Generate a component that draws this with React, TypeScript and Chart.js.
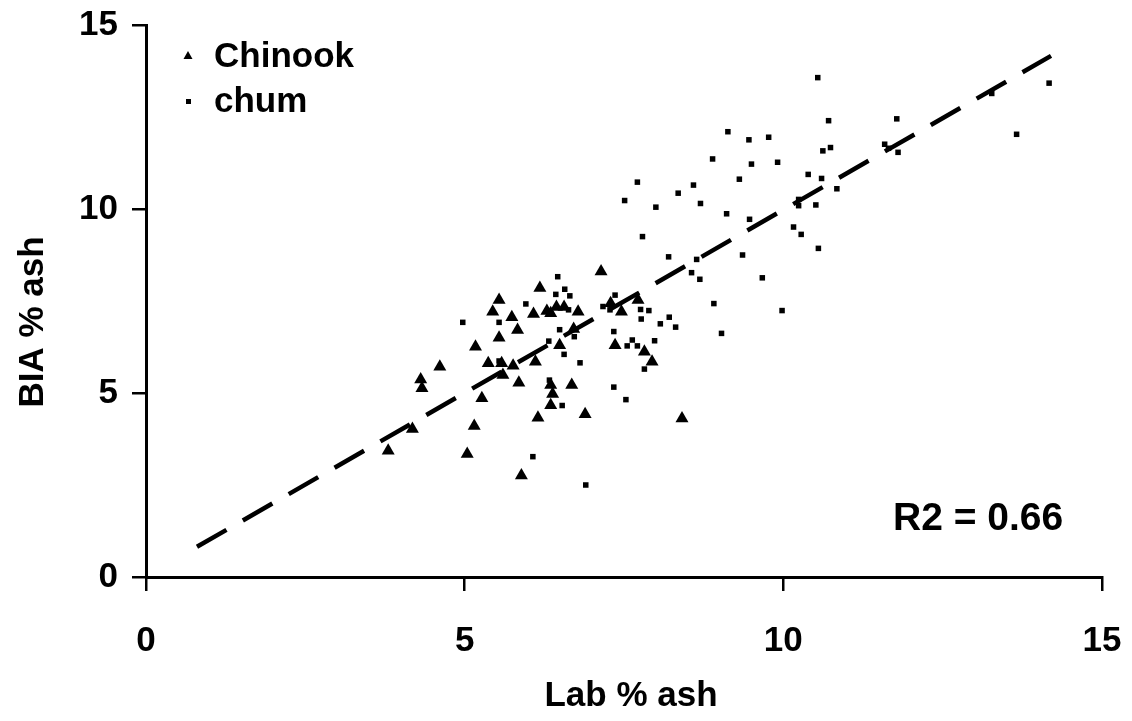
import React, { useEffect, useRef } from "react";
import { Chart, registerables } from "chart.js";

Chart.register(...registerables);

const chinookX = [3.80, 4.18, 4.31, 4.33, 4.61, 5.04, 5.15, 5.17, 5.27, 5.37, 5.44, 5.54, 5.54, 5.58, 5.60, 5.74, 5.76, 5.83, 5.85, 5.89, 6.08, 6.11, 6.15, 6.18, 6.29, 6.35, 6.44, 6.56, 6.78, 6.35, 6.38, 6.35, 6.49, 6.68, 6.71, 6.89, 7.14, 7.29, 7.36, 7.46, 7.72, 7.82, 7.94, 8.41];
const chinookY = [3.43, 4.02, 5.37, 5.13, 5.71, 3.34, 4.10, 6.26, 4.86, 5.81, 7.21, 7.53, 6.50, 5.81, 5.49, 7.06, 5.74, 6.71, 5.28, 2.76, 7.15, 5.85, 4.33, 7.85, 7.23, 7.17, 7.34, 7.34, 7.21, 5.22, 4.97, 4.67, 6.30, 5.22, 6.74, 4.42, 8.30, 7.44, 6.30, 7.21, 7.53, 6.12, 5.85, 4.31];

const chumX = [4.97, 5.54, 5.54, 5.96, 6.07, 6.32, 6.33, 6.43, 6.46, 6.49, 6.53, 6.56, 6.57, 6.65, 6.63, 6.72, 6.81, 6.90, 7.17, 7.28, 7.34, 7.34, 7.36, 7.53, 7.55, 7.63, 7.71, 7.76, 7.77, 7.82, 7.89, 7.98, 8.07, 8.21, 8.31, 7.51, 7.71, 7.79, 8.00, 8.20, 8.35, 8.56, 8.59, 8.64, 8.69, 8.70, 8.89, 8.91, 9.03, 9.11, 9.13, 9.31, 9.36, 9.46, 9.47, 9.50, 9.67, 9.77, 9.91, 9.98, 10.16, 10.24, 10.24, 10.28, 10.39, 10.51, 10.54, 10.55, 10.60, 10.62, 10.71, 10.74, 10.84, 11.59, 11.65, 11.78, 11.80, 13.27, 13.66, 14.17];
const chumY = [6.92, 6.92, 5.87, 7.42, 3.27, 6.41, 5.35, 7.68, 8.16, 6.72, 4.66, 6.05, 7.82, 7.64, 7.26, 6.53, 5.82, 2.50, 7.35, 7.26, 6.67, 5.16, 7.66, 4.82, 6.28, 6.44, 6.28, 7.27, 7.01, 5.65, 7.24, 6.42, 6.88, 7.06, 6.79, 10.23, 10.73, 9.25, 10.05, 8.70, 10.43, 8.27, 10.65, 8.63, 8.09, 10.15, 11.36, 7.43, 6.62, 9.87, 12.10, 10.81, 8.75, 11.88, 9.72, 11.22, 8.13, 11.95, 11.27, 7.24, 9.51, 10.26, 10.09, 9.31, 10.94, 10.11, 13.57, 8.93, 10.83, 11.58, 12.40, 11.67, 10.55, 11.76, 11.65, 12.45, 11.54, 13.14, 12.03, 13.42];

const fitX = [0.8, 14.2];
const fitY = [0.82, 14.16];

const xTicks = [0, 5, 10, 15];
const yTicks = [0, 5, 10, 15];

const seriesNames = ["Chinook", "chum"];
const xTitle = "Lab % ash";
const yTitle = "BIA % ash";
const r2Label = "R2 = 0.66";

const FONT = "'Liberation Sans', Arial, sans-serif";

const overlayPlugin = {
  id: "overlay",
  afterDatasetsDraw(chart: any) {
    const ctx = chart.ctx;
    ctx.save();
    ctx.fillStyle = "#000";
    ctx.font = `bold 35px ${FONT}`;
    ctx.textBaseline = "middle";
    ctx.textAlign = "left";
    // legend
    ctx.beginPath();
    ctx.moveTo(188, 51);
    ctx.lineTo(192.5, 59);
    ctx.lineTo(183.5, 59);
    ctx.closePath();
    ctx.fill();
    ctx.fillText(seriesNames[0], 214, 57);
    ctx.fillRect(186, 99, 5, 5);
    ctx.fillText(seriesNames[1], 214, 102);
    // R2
    ctx.font = `bold 39px ${FONT}`;
    ctx.fillText(r2Label, 893, 519);
    // axis titles
    ctx.font = `bold 35px ${FONT}`;
    ctx.textAlign = "center";
    ctx.fillText(xTitle, 631, 696);
    ctx.translate(33, 322);
    ctx.rotate(-Math.PI / 2);
    ctx.fillText(yTitle, 0, 0);
    ctx.restore();
  },
};

const zeroPad = (s: any) => {
  s.paddingTop = 0;
  s.paddingBottom = 0;
  s.paddingLeft = 0;
  s.paddingRight = 0;
};

export default function App() {
  const ref = useRef<HTMLCanvasElement | null>(null);
  useEffect(() => {
    if (!ref.current) return;
    const chinook = chinookX.map((x, i) => ({ x, y: chinookY[i] }));
    const chum = chumX.map((x, i) => ({ x, y: chumY[i] }));
    const fit = fitX.map((x, i) => ({ x, y: fitY[i] }));
    const chart = new Chart(ref.current, {
      type: "scatter",
      data: {
        datasets: [
          {
            type: "line",
            label: "fit",
            data: fit,
            borderColor: "#000",
            borderWidth: 4.5,
            borderDash: [34, 18.9],
            pointRadius: 0,
            showLine: true,
            fill: false,
          } as any,
          {
            label: seriesNames[0],
            data: chinook,
            pointStyle: "triangle",
            pointRadius: 7.5,
            backgroundColor: "#000",
            borderWidth: 0,
          },
          {
            label: seriesNames[1],
            data: chum,
            pointStyle: "rect",
            pointRadius: 3.9,
            backgroundColor: "#000",
            borderWidth: 0,
          },
        ],
      },
      options: {
        responsive: false,
        animation: false,
        layout: { padding: { top: 25, right: 30, left: 0, bottom: 0 } },
        plugins: {
          legend: { display: false },
          tooltip: { enabled: false },
        },
        scales: {
          x: {
            type: "linear",
            min: 0,
            max: 15,
            afterFit: (s: any) => { s.height = 144; zeroPad(s); },
            afterBuildTicks: (s: any) => { s.ticks = xTicks.map((v) => ({ value: v })); },
            grid: { display: true, drawOnChartArea: false, drawTicks: true, tickLength: 14, color: "#000", lineWidth: 2.5 },
            border: { display: true, color: "#000", width: 3 },
            ticks: { color: "#000", font: { family: FONT, size: 35, weight: "bold" }, padding: 29, maxRotation: 0 },
          },
          y: {
            type: "linear",
            min: 0,
            max: 15,
            afterFit: (s: any) => { s.width = 146; zeroPad(s); },
            afterBuildTicks: (s: any) => { s.ticks = yTicks.map((v) => ({ value: v })); },
            grid: { display: true, drawOnChartArea: false, drawTicks: true, tickLength: 14, color: "#000", lineWidth: 2.5 },
            border: { display: true, color: "#000", width: 3 },
            ticks: { color: "#000", font: { family: FONT, size: 35, weight: "bold" }, padding: 14 },
          },
        },
      },
      plugins: [overlayPlugin],
    });
    return () => chart.destroy();
  }, []);
  return (
    <div style={{ position: "absolute", left: 0, top: 0, width: 1132, height: 721, background: "#fff" }}>
      <canvas ref={ref} width={1132} height={721} style={{ display: "block" }} />
    </div>
  );
}
